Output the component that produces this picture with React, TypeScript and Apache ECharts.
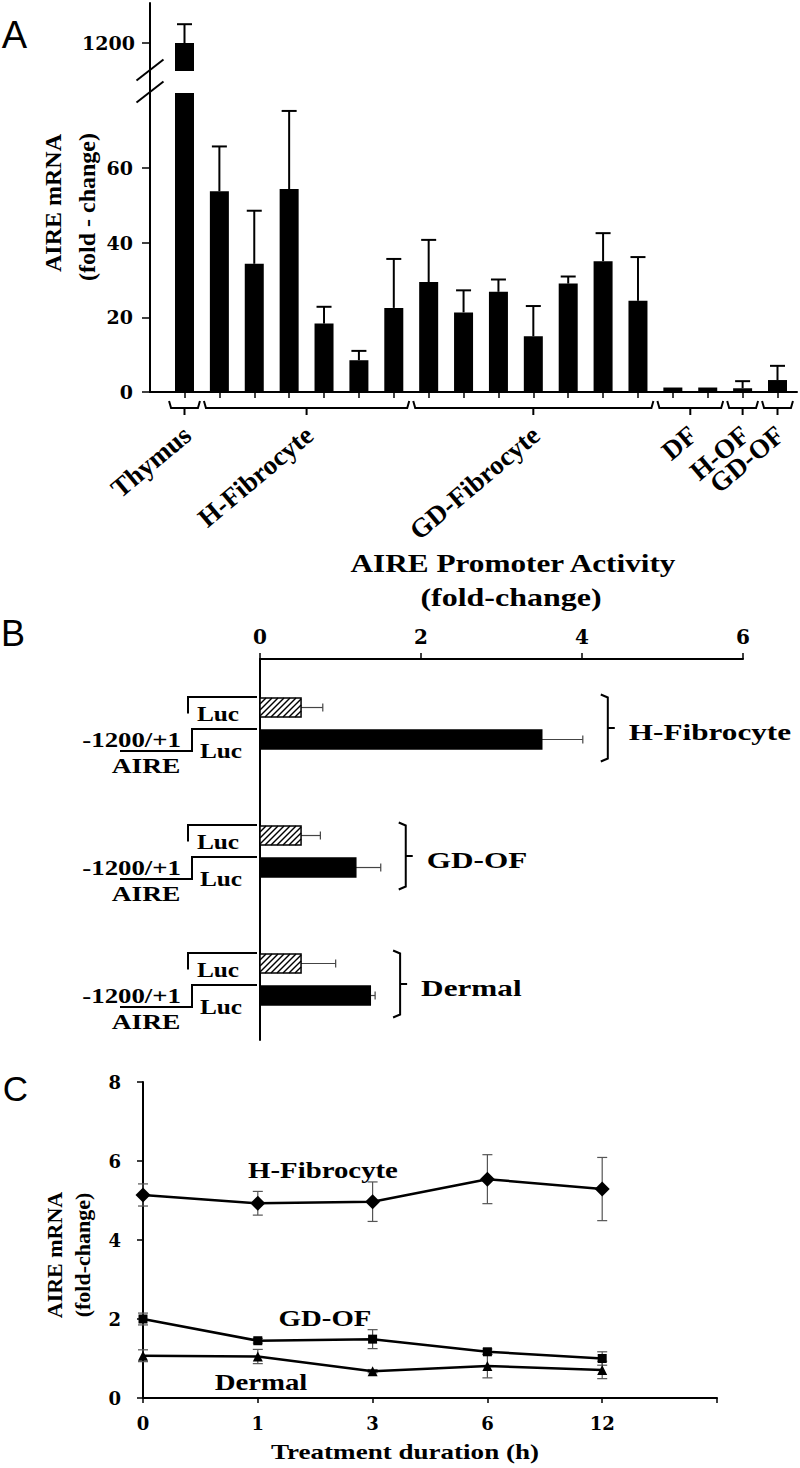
import React, { useEffect, useRef } from 'react';
import * as echarts from 'echarts';

// ---------------- Panel A : AIRE mRNA (fold-change) ----------------
const aValues = [1200, 53.7, 34.3, 54.3, 18.3, 8.5, 22.5, 29.4, 21.3, 26.8, 14.9, 29.0, 35.0, 24.4, 1.2, 1.2, 1.0, 3.2];
const aErrors = [47, 12.0, 14.2, 20.9, 4.5, 2.5, 13.1, 11.3, 5.9, 3.3, 8.1, 1.9, 7.5, 11.7, 0, 0, 1.9, 3.8];
const aGroups = ['Thymus', 'H-Fibrocyte', 'GD-Fibrocyte', 'DF', 'H-OF', 'GD-OF'];
const aGroupStart = [0, 1, 7, 14, 16, 17];
const aGroupEnd = [0, 6, 13, 15, 16, 17];
const aTicksLower = [0, 20, 40, 60];
const aTicksUpper = [1200];

// ---------------- Panel B : AIRE promoter activity ----------------
const bGroups = ['H-Fibrocyte', 'GD-OF', 'Dermal'];
const bLucOnly = [0.51, 0.51, 0.51];
const bLucOnlyErr = [0.27, 0.24, 0.43];
const bAireLuc = [3.5, 1.19, 1.37];
const bAireLucErr = [0.51, 0.31, 0.06];
const bTicks = [0, 2, 4, 6];

// ---------------- Panel C : time course ----------------
const cTimes = ['0', '1', '3', '6', '12'];
const cHFib = [5.14, 4.93, 4.97, 5.54, 5.29];
const cHFibErr = [0.28, 0.3, 0.5, 0.62, 0.8];
const cGDOF = [2.0, 1.45, 1.49, 1.17, 1.0];
const cGDOFErr = [0.15, 0.06, 0.24, 0.07, 0.17];
const cDermal = [1.07, 1.05, 0.68, 0.81, 0.71];
const cDermalErr = [0.15, 0.18, 0.04, 0.3, 0.22];

const SERIF = '"Liberation Serif", "Times New Roman", serif';
const NUMF = '"DejaVu Serif", serif';
const SANS = '"Liberation Sans", Arial, sans-serif';
const BLACK = '#000';
const lineSt = { color: BLACK, width: 2 };
const numLabel = (size: number, margin: number) => ({
  fontFamily: NUMF, fontWeight: 'bold', fontSize: size, color: BLACK, margin,
  formatter: (v: any) => String(v),
});

const A_XMIN = -0.989;
const A_XMAX = 17.559;
const B_STRIDE = 4;

function vErr(capHalf: number, width: number, color: string, both: boolean, ymax: number) {
  return (_p: any, api: any) => {
    const x = api.value(0);
    const v = api.value(1);
    const e = api.value(2);
    if (!e || v > ymax) return null;
    const top = api.coord([x, v + e]);
    const bot = api.coord([x, both ? v - e : v]);
    const st = { stroke: color, lineWidth: width };
    const children: any[] = [
      { type: 'line', shape: { x1: top[0], y1: top[1], x2: bot[0], y2: bot[1] }, style: st },
      { type: 'line', shape: { x1: top[0] - capHalf, y1: top[1], x2: top[0] + capHalf, y2: top[1] }, style: st },
    ];
    if (both) {
      children.push({ type: 'line', shape: { x1: bot[0] - capHalf, y1: bot[1], x2: bot[0] + capHalf, y2: bot[1] }, style: st });
    }
    return { type: 'group', children };
  };
}

function bRender(_p: any, api: any) {
  const v = api.value(0);
  const row = api.value(1);
  const e = api.value(2);
  const hatched = api.value(3);
  const p0 = api.coord([0, row]);
  const p1 = api.coord([v, row]);
  const pe = api.coord([v + e, row]);
  const h = 19;
  const yc = p0[1];
  const y0 = yc - h / 2;
  const y1 = yc + h / 2;
  const x0 = p0[0];
  const x1 = p1[0];
  const es = { stroke: '#444', lineWidth: 1.2 };
  const children: any[] = [
    { type: 'line', shape: { x1, y1: yc, x2: pe[0], y2: yc }, style: es },
    { type: 'line', shape: { x1: pe[0], y1: yc - 4, x2: pe[0], y2: yc + 4 }, style: es },
    { type: 'rect', shape: { x: x0, y: y0, width: x1 - x0, height: h }, style: { fill: hatched ? '#fff' : BLACK, stroke: BLACK, lineWidth: 1.5 } },
  ];
  if (hatched) {
    for (let s = x0 - h; s < x1; s += 6) {
      const tmin = Math.max(0, (x0 - s) / h);
      const tmax = Math.min(1, (x1 - s) / h);
      if (tmax > tmin) {
        children.push({
          type: 'line',
          shape: { x1: s + tmin * h, y1: y1 - tmin * h, x2: s + tmax * h, y2: y1 - tmax * h },
          style: { stroke: BLACK, lineWidth: 1.4 },
        });
      }
    }
  }
  return { type: 'group', children };
}

function txt(text: string, x: number, y: number, o: any = {}) {
  return {
    type: 'text',
    x, y,
    rotation: o.rotation || 0,
    scaleX: o.scaleX || 1,
    scaleY: o.scaleY || 1,
    z: 50,
    style: {
      text,
      fontFamily: o.family || SERIF,
      fontWeight: o.weight || 'bold',
      fontSize: o.size || 22,
      fill: BLACK,
      align: o.align || 'center',
      textAlign: o.align || 'center',
      verticalAlign: o.va || 'middle',
      textVerticalAlign: o.va || 'middle',
    },
  };
}

function poly(points: number[][], w = 2) {
  return { type: 'polyline', z: 50, shape: { points }, style: { stroke: BLACK, lineWidth: w, fill: 'none' } };
}

function buildOption(): any {
  const bData: any[] = [];
  bGroups.forEach((_g, i) => {
    bData.push([bLucOnly[i], i * B_STRIDE, bLucOnlyErr[i], 1]);
    bData.push([bAireLuc[i], i * B_STRIDE + 1, bAireLucErr[i], 0]);
  });
  const cErr = (vals: number[], errs: number[]) => vals.map((v, k) => [k, v, errs[k]]);
  return {
    animation: false,
    backgroundColor: '#fff',
    grid: [
      { left: 150, top: 3, width: 647, height: 68 },
      { left: 150, top: 93, width: 647, height: 299 },
      { left: 260, top: 659, width: 483, height: 381 },
      { left: 143, top: 1082, width: 574, height: 316 },
    ],
    xAxis: [
      { gridIndex: 0, type: 'value', min: A_XMIN, max: A_XMAX, show: false },
      {
        gridIndex: 1, type: 'value', min: A_XMIN, max: A_XMAX,
        axisLine: { show: true, onZero: false, lineStyle: lineSt },
        axisTick: { show: true, customValues: aValues.map((_v, i) => i), length: 6, lineStyle: { color: BLACK, width: 1.5 } },
        axisLabel: { show: false }, splitLine: { show: false },
      },
      {
        gridIndex: 2, type: 'value', position: 'top', min: 0, max: 6, interval: 2,
        axisLine: { show: true, onZero: false, lineStyle: lineSt },
        axisTick: { show: true, customValues: bTicks, length: 6, lineStyle: { color: BLACK, width: 1.5 } },
        axisLabel: { customValues: bTicks, ...numLabel(20, 12) }, splitLine: { show: false },
      },
      {
        gridIndex: 3, type: 'category', data: [...cTimes, ''], boundaryGap: false,
        axisLine: { show: true, onZero: false, lineStyle: lineSt },
        axisTick: { show: true, length: 5, lineStyle: { color: BLACK, width: 1.5 } },
        axisLabel: numLabel(18, 16), splitLine: { show: false },
      },
    ],
    yAxis: [
      {
        gridIndex: 0, type: 'value', min: 1130, max: 1300,
        axisLine: { show: true, onZero: false, lineStyle: lineSt },
        axisTick: { show: true, customValues: aTicksUpper, length: 8, lineStyle: { color: BLACK, width: 1.5 } },
        axisLabel: { customValues: aTicksUpper, ...numLabel(19, 15) }, splitLine: { show: false },
      },
      {
        gridIndex: 1, type: 'value', min: 0, max: 80,
        axisLine: { show: true, onZero: false, lineStyle: lineSt },
        axisTick: { show: true, customValues: aTicksLower, length: 8, lineStyle: { color: BLACK, width: 1.5 } },
        axisLabel: { customValues: aTicksLower, ...numLabel(19, 17) }, splitLine: { show: false },
      },
      {
        gridIndex: 2, type: 'value', inverse: true, min: -1.516, max: 10.39,
        axisLine: { show: true, onZero: false, lineStyle: lineSt },
        axisTick: { show: false }, axisLabel: { show: false }, splitLine: { show: false },
      },
      {
        gridIndex: 3, type: 'value', min: 0, max: 8, interval: 2,
        axisLine: { show: true, onZero: false, lineStyle: lineSt },
        axisTick: { show: true, length: 6, lineStyle: { color: BLACK, width: 1.5 } },
        axisLabel: numLabel(18, 22), splitLine: { show: false },
      },
    ],
    series: [
      { type: 'bar', xAxisIndex: 0, yAxisIndex: 0, data: [[0, aValues[0]]], barWidth: 19, itemStyle: { color: BLACK }, clip: true },
      { type: 'bar', xAxisIndex: 1, yAxisIndex: 1, data: aValues.map((v, i) => [i, v]), barWidth: 19, itemStyle: { color: BLACK }, clip: true },
      {
        type: 'custom', xAxisIndex: 0, yAxisIndex: 0, encode: { x: 0, y: 1 },
        data: [[0, aValues[0], aErrors[0]]], renderItem: vErr(7.5, 2, BLACK, false, Infinity), z: 1,
      },
      {
        type: 'custom', xAxisIndex: 1, yAxisIndex: 1, encode: { x: 0, y: 1 },
        data: aValues.map((v, i) => [i, v, aErrors[i]]), renderItem: vErr(7.5, 2, BLACK, false, 80), z: 1,
      },
      {
        type: 'custom', xAxisIndex: 2, yAxisIndex: 2, encode: { x: 0, y: 1 },
        data: bData, renderItem: bRender,
      },
      { type: 'custom', xAxisIndex: 3, yAxisIndex: 3, encode: { x: 0, y: 1 }, data: cErr(cHFib, cHFibErr), renderItem: vErr(5, 1.2, '#555', true, Infinity), z: 1 },
      { type: 'custom', xAxisIndex: 3, yAxisIndex: 3, encode: { x: 0, y: 1 }, data: cErr(cGDOF, cGDOFErr), renderItem: vErr(5, 1.2, '#555', true, Infinity), z: 1 },
      { type: 'custom', xAxisIndex: 3, yAxisIndex: 3, encode: { x: 0, y: 1 }, data: cErr(cDermal, cDermalErr), renderItem: vErr(5, 1.2, '#555', true, Infinity), z: 1 },
      {
        type: 'line', name: 'H-Fibrocyte', xAxisIndex: 3, yAxisIndex: 3, data: cHFib, symbol: 'diamond', symbolSize: 15,
        lineStyle: { color: BLACK, width: 2.5 }, itemStyle: { color: BLACK }, z: 3,
      },
      {
        type: 'line', name: 'GD-OF', xAxisIndex: 3, yAxisIndex: 3, data: cGDOF, symbol: 'rect', symbolSize: 9,
        lineStyle: { color: BLACK, width: 2.5 }, itemStyle: { color: BLACK }, z: 3,
      },
      {
        type: 'line', name: 'Dermal', xAxisIndex: 3, yAxisIndex: 3, data: cDermal, symbol: 'triangle', symbolSize: 10,
        lineStyle: { color: BLACK, width: 2.5 }, itemStyle: { color: BLACK }, z: 3,
      },
    ],
  };
}

function buildGraphics(chart: any): any[] {
  const px = (gridIndex: number, pt: number[]) => chart.convertToPixel({ gridIndex }, pt) as number[];
  const g: any[] = [];

  // ---- Panel A ----
  const axisY = px(1, [0, 0])[1];
  const axisX = px(1, [A_XMIN, 0])[0];
  const upperBottom = px(0, [0, 1130])[1];
  const lowerTop = px(1, [0, 80])[1];
  g.push(poly([[axisX, upperBottom], [axisX, lowerTop]]));
  [upperBottom - 1, lowerTop - 1].forEach((cy) => {
    g.push(poly([[axisX - 13.5, cy + 10.5], [axisX + 13.5, cy - 10.5]], 2));
  });
  aGroups.forEach((name, gi) => {
    const xl = px(1, [aGroupStart[gi] - 0.5, 0])[0] + 2;
    const xr = px(1, [aGroupEnd[gi] + 0.5, 0])[0] - 2;
    const cx = (px(1, [aGroupStart[gi], 0])[0] + px(1, [aGroupEnd[gi], 0])[0]) / 2;
    g.push(poly([[xl, axisY + 9], [xl + 2, axisY + 16], [xr - 2, axisY + 16], [xr, axisY + 9]]));
    g.push(poly([[cx, axisY + 16], [cx, axisY + 23]]));
    g.push(txt(name, cx - 6, axisY + 29, { size: 27, rotation: (40 * Math.PI) / 180, align: 'right', va: 'top' }));
  });
  g.push(txt('AIRE mRNA', 53, 203, { size: 24, rotation: Math.PI / 2 }));
  g.push(txt('(fold - change)', 87, 207, { size: 24, rotation: Math.PI / 2 }));
  g.push(txt('A', 14.5, 35, { family: SANS, weight: 'normal', size: 38 }));

  // ---- Panel B ----
  g.push(txt('B', 13, 633, { family: SANS, weight: 'normal', size: 36 }));
  g.push(txt('AIRE Promoter Activity', 513, 564, { size: 25, scaleX: 1.25 }));
  g.push(txt('(fold-change)', 511, 597, { size: 25, scaleX: 1.28 }));
  const bAxX = px(2, [0, 0])[0];
  bGroups.forEach((name, i) => {
    const yh = px(2, [0, i * B_STRIDE])[1];
    const yb = px(2, [0, i * B_STRIDE + 1])[1];
    g.push(poly([[bAxX - 3, yh - 10.5], [bAxX - 72, yh - 10.5], [bAxX - 72, yh + 6]]));
    g.push(txt('Luc', bAxX - 42, yh + 6, { size: 22, scaleX: 1.15 }));
    g.push(poly([[bAxX - 3, yb - 10.5], [bAxX - 68, yb - 10.5], [bAxX - 68, yb + 11.5], [bAxX - 140, yb + 11.5]]));
    g.push(txt('Luc', bAxX - 39, yb + 11.5, { size: 22, scaleX: 1.15 }));
    g.push(txt('-1200/+1', bAxX - 79, yb, { size: 22, scaleX: 1.22, align: 'right' }));
    g.push(txt('AIRE', bAxX - 114, yb + 25.5, { size: 22, scaleX: 1.25 }));
    const right = Math.max(
      px(2, [bLucOnly[i] + bLucOnlyErr[i], i * B_STRIDE])[0],
      px(2, [bAireLuc[i] + bAireLucErr[i], i * B_STRIDE + 1])[0]
    );
    const bx = right + 25;
    const top = yh - 13;
    const bottom = yb + 22;
    const mid = (top + bottom) / 2;
    g.push(poly([[bx - 7, top], [bx, top + 3], [bx, bottom - 3], [bx - 7, bottom]]));
    g.push(poly([[bx, mid], [bx + 7, mid]]));
    g.push(txt(name, bx + 21, mid + 4, { size: 24, scaleX: 1.3, align: 'left' }));
  });

  // ---- Panel C ----
  g.push(txt('C', 15.5, 1088, { family: SANS, weight: 'normal', size: 35 }));
  g.push(txt('AIRE mRNA', 54.5, 1255, { size: 22, rotation: Math.PI / 2 }));
  g.push(txt('(fold-change)', 82, 1255, { size: 22, rotation: Math.PI / 2 }));
  g.push(txt('H-Fibrocyte', 323, 1170, { size: 24, scaleX: 1.2 }));
  g.push(txt('GD-OF', 325, 1318, { size: 24, scaleX: 1.2 }));
  g.push(txt('Dermal', 261, 1382, { size: 24, scaleX: 1.2 }));
  g.push(txt('Treatment duration (h)', 405, 1451, { size: 22, scaleX: 1.23 }));
  return g;
}

export default function App() {
  const ref = useRef<HTMLDivElement>(null);
  useEffect(() => {
    document.body.style.margin = '0';
    if (!ref.current) return;
    const chart = echarts.init(ref.current, null, { renderer: 'svg', width: 800, height: 1468 });
    chart.setOption(buildOption());
    chart.setOption({ graphic: { elements: buildGraphics(chart) } });
    return () => chart.dispose();
  }, []);
  return <div ref={ref} style={{ position: 'absolute', left: 0, top: 0, width: 800, height: 1468 }} />;
}
